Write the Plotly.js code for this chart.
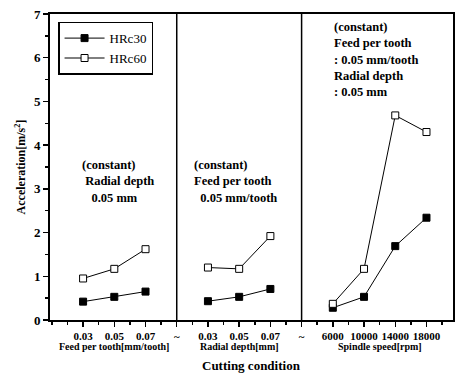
<!DOCTYPE html>
<html><head><meta charset="utf-8">
<script src="https://cdn.plot.ly/plotly-3.0.1.min.js"></script>
<style>body{margin:0;background:#fff}#chart{width:455px;height:376px}</style>
</head><body><div id="chart"></div>
<script>
const positions = [1, 2, 3, null, 5, 6, 7, null, 9, 10, 11, 12];
const hrc30 = [0.42, 0.53, 0.65, null, 0.43, 0.53, 0.71, null, 0.28, 0.53, 1.69, 2.34];
const hrc60 = [0.95, 1.17, 1.62, null, 1.20, 1.17, 1.92, null, 0.37, 1.17, 4.68, 4.30];
const tickPos = [1, 2, 3, 4, 5, 6, 7, 8, 9, 10, 11, 12];
const tickLabels = ["0.03", "0.05", "0.07", "~", "0.03", "0.05", "0.07", "~", "6000", "10000", "14000", "18000"];
const yTicks = [0, 1, 2, 3, 4, 5, 6, 7];
const dividers = [4, 8];
const groupNames = ["Feed per tooth[mm/tooth]", "Radial depth[mm]", "Spindle speed[rpm]"];
const groupCenters = [2, 6, 10.5];

const F = "Liberation Serif";
const traces = [
  {x: positions, y: hrc30, name: "HRc30", mode: "lines+markers", connectgaps: false,
   line: {color: "#000", width: 1},
   marker: {symbol: "square", size: 7, color: "#000", line: {color: "#000", width: 1}}},
  {x: positions, y: hrc60, name: "HRc60", mode: "lines+markers", connectgaps: false,
   line: {color: "#000", width: 1},
   marker: {symbol: "square", size: 7, color: "#fff", line: {color: "#000", width: 1}}}
];
const shapes = dividers.map(d => ({type: "line", xref: "x", yref: "y", x0: d, x1: d, y0: 0, y1: 7,
  line: {color: "#000", width: 1.5}}));
const annotations = groupNames.map((g, i) => ({x: groupCenters[i], xref: "x", y: -0.088, yref: "paper",
  text: "<b>" + g + "</b>", showarrow: false, font: {family: F, size: 10, color: "#000"}, yanchor: "middle"}));
annotations.push({x: 0.5, xref: "paper", y: -0.148, yref: "paper", text: "<b>Cutting condition</b>",
  showarrow: false, font: {family: F, size: 13, color: "#000"}, yanchor: "middle"});
annotations.push({x: 0.9, xref: "x", y: 3.76, yref: "y", xanchor: "left", yanchor: "top", align: "left",
  text: "<b>(constant)<br> Radial depth<br>   0.05 mm</b>", showarrow: false, font: {family: F, size: 12.5, color: "#000"}});
annotations.push({x: 4.5, xref: "x", y: 3.76, yref: "y", xanchor: "left", yanchor: "top", align: "left",
  text: "<b>(constant)<br>Feed per tooth<br>  0.05 mm/tooth</b>", showarrow: false, font: {family: F, size: 12.5, color: "#000"}});
annotations.push({x: 8.98, xref: "x", y: 6.9, yref: "y", xanchor: "left", yanchor: "top", align: "left",
  text: "<b>(constant)<br>Feed per tooth<br>: 0.05 mm/tooth<br>Radial depth<br>: 0.05 mm</b>", showarrow: false, font: {family: F, size: 12.5, color: "#000"}});

const layout = {
  width: 455, height: 376,
  margin: {l: 50, r: 2, t: 14, b: 56},
  paper_bgcolor: "#fff", plot_bgcolor: "#fff",
  font: {family: F, color: "#000"},
  showlegend: true,
  legend: {x: 0.02, y: 0.975, xanchor: "left", yanchor: "top", bgcolor: "#fff", bordercolor: "#000", borderwidth: 1.5,
    font: {family: F, size: 13, color: "#000"}, tracegroupgap: 0, itemwidth: 40},
  xaxis: {range: [-0.06, 12.85], tickmode: "array", tickvals: tickPos, ticktext: tickLabels.map(t => "<b>" + t + "</b>"), tickangle: 0,
    showgrid: false, zeroline: false, showline: true, linecolor: "#000", linewidth: 2, mirror: true,
    ticks: "outside", ticklen: 5, tickwidth: 1.5, tickcolor: "#000",
    minor: {tick0: 0.5, dtick: 0.5, ticks: "outside", ticklen: 3, tickcolor: "#000", tickwidth: 1.5},
    tickfont: {family: F, size: 11, color: "#000"}},
  yaxis: {range: [0, 7], tickmode: "array", tickvals: yTicks, ticktext: yTicks.map(t => "<b>" + t + "</b>"),
    showgrid: false, zeroline: false,
    showline: true, linecolor: "#000", linewidth: 2, mirror: true,
    ticks: "outside", ticklen: 5, tickwidth: 1.5, tickcolor: "#000",
    minor: {dtick: 0.5, ticks: "outside", ticklen: 3, tickcolor: "#000", tickwidth: 1.5},
    tickfont: {family: F, size: 13, color: "#000"},
    title: {text: "<b>Acceleration[m/s<sup>2</sup>]</b>", font: {family: F, size: 12, color: "#000"}, standoff: 6}},
  shapes: shapes,
  annotations: annotations
};
Plotly.newPlot("chart", traces, layout, {staticPlot: true, displayModeBar: false});
</script></body></html>
